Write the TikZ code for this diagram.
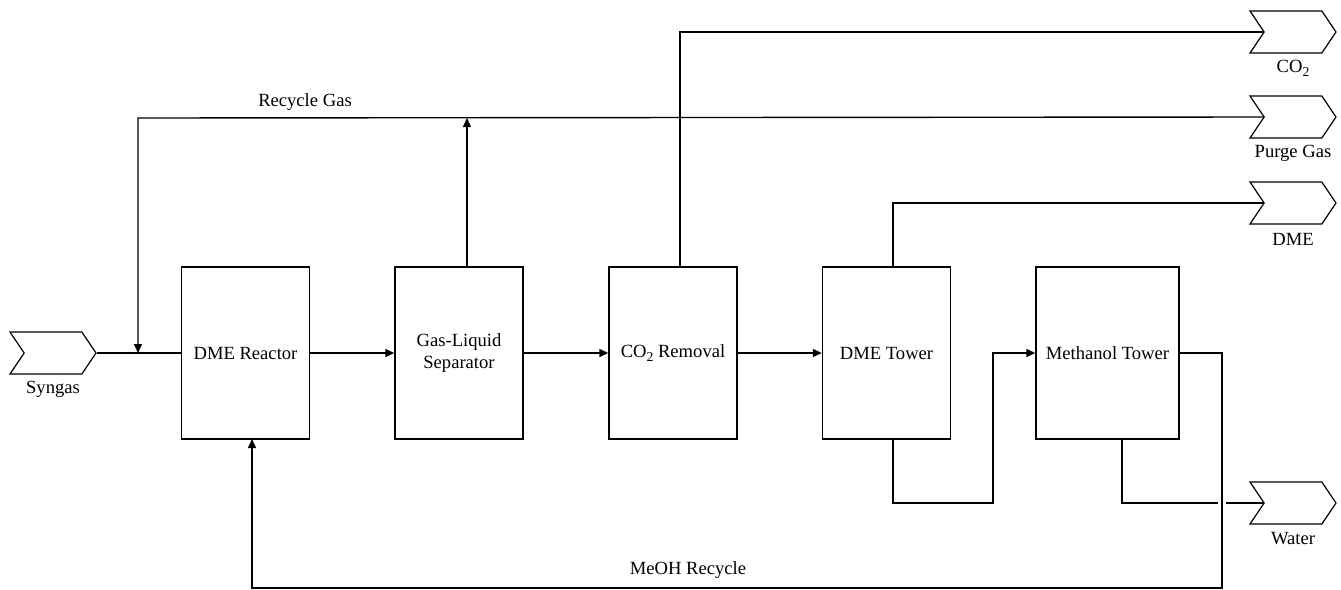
\documentclass[tikz,border=0pt]{standalone}
\usepackage{fontspec}
\setmainfont{Liberation Serif}
\usetikzlibrary{arrows.meta,shapes.symbols,calc}
\newcommand{\subtwo}{\raisebox{-0.45ex}{\fontsize{6.8}{8}\selectfont 2}}
\begin{document}
\begin{tikzpicture}[x=0.5pt,y=-0.5pt,
  font=\fontsize{9.3}{11}\selectfont,
  line width=0.7pt,
  unit/.style={draw,line width=0.7pt,minimum width=64pt,minimum height=86pt,inner sep=0pt,align=center},
  chev/.style={draw,line width=0.6pt,shape=signal,signal to=east,signal from=west,signal pointer angle=112,minimum width=43pt,minimum height=21pt,inner sep=0pt},
  flow/.style={-{Triangle[length=4.5pt,width=4pt]}},
  lbl/.style={inner sep=0pt}]
\useasboundingbox (0,0) rectangle (1341,590);
% units
\node[unit] (reactor) at (245.5,353) {DME Reactor};
\node[unit] (gls) at (459,353) {Gas-Liquid\\Separator};
\node[unit] (co2r) at (673,353) {CO\subtwo\ Removal};
\node[unit] (dmet) at (886.5,353) {DME Tower};
\node[unit,minimum width=71.5pt] (meoh) at (1107.5,353) {Methanol Tower};
% terminals
\node[chev] (syngas) at (53,353) {};
\node[chev] (co2out) at (1293,32) {};
\node[chev] (purge) at (1293,117) {};
\node[chev] (dmeout) at (1293,203) {};
\node[chev] (water) at (1293,503) {};
\node[lbl] (lsyn) at (53,389) {Syngas};
\node[lbl] (lco2) at (1293,68) {CO\subtwo};
\node[lbl] (lpur) at (1293,153) {Purge Gas};
\node[lbl] (ldme) at (1293,239) {DME};
\node[lbl] (lwat) at (1293,539) {Water};
\node[lbl] (lrec) at (305,102) {Recycle Gas};
\node[lbl] (lmeoh) at (688,570) {MeOH Recycle};
% helper coordinates
\coordinate (nx) at (1264,0);
\coordinate (j1) at (138,353);
\coordinate (r1) at (138,118);
\coordinate (r2) at (467,118);
\coordinate (gt) at (467,267);
\coordinate (ct) at (680,267);
\coordinate (c1) at (680,32);
\coordinate (dt) at (893,267);
\coordinate (d1) at (893,203);
\coordinate (db) at (893,439);
\coordinate (d2) at (893,503);
\coordinate (d3) at (993,503);
\coordinate (d4) at (993,353);
\coordinate (m1) at (1222,353);
\coordinate (m2) at (1222,588);
\coordinate (m3) at (252,588);
\coordinate (rb) at (252,439);
\coordinate (mb) at (1122,439);
\coordinate (w1) at (1122,503);
\coordinate (w2) at (1218,503);
\coordinate (w3) at (1226,503);
% connectors
\draw (syngas.east) -- (reactor.west);
\draw[flow] (purge.center -| nx) -- (r1) -- (j1);
\draw[flow] (gt) -- (r2);
\draw[flow] (reactor.east) -- (gls.west);
\draw[flow] (gls.east) -- (co2r.west);
\draw[flow] (co2r.east) -- (dmet.west);
\draw (ct) -- (c1) -- (co2out.center -| nx);
\draw (dt) -- (d1) -- (dmeout.center -| nx);
\draw[flow] (db) -- (d2) -- (d3) -- (d4) -- (meoh.west);
\draw[flow] (meoh.east) -- (m1) -- (m2) -- (m3) -- (rb);
\draw (mb) -- (w1) -- (w2);
\draw (w3) -- (water.center -| nx);
\end{tikzpicture}
\end{document}
